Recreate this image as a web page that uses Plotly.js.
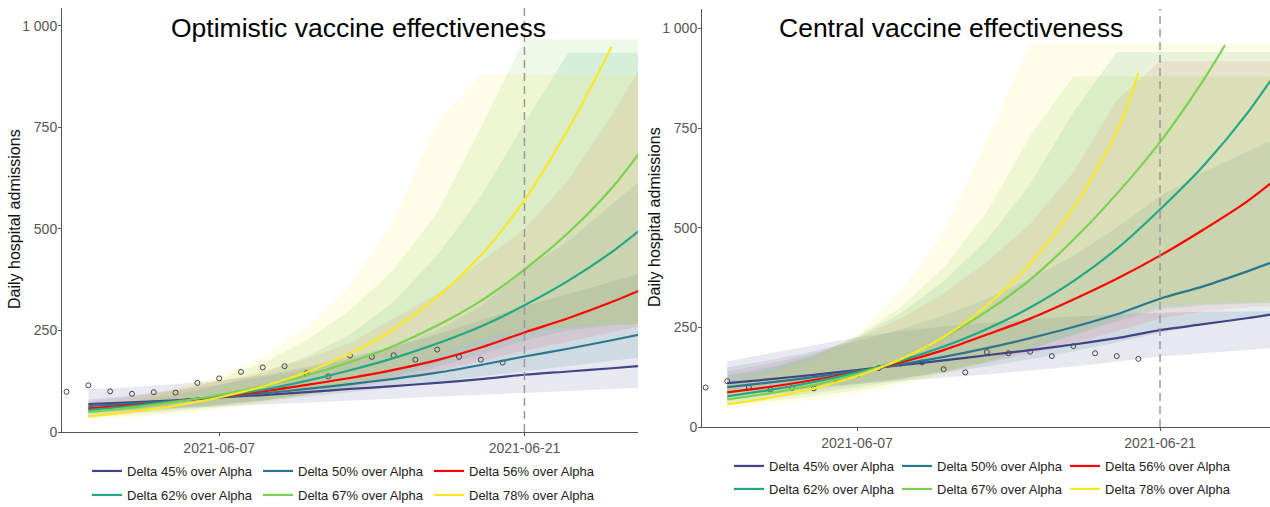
<!DOCTYPE html>
<html>
<head>
<meta charset="utf-8">
<script src="https://cdn.plot.ly/plotly-3.0.1.min.js"></script>
<style>
html,body{margin:0;padding:0;background:#fff;}
#chart{width:1270px;height:507px;}
</style>
</head>
<body>
<div id="chart"></div>
<script>
// ---------- DATA ----------
const modelDates = ['2021-06-01','2021-06-03','2021-06-05','2021-06-07','2021-06-09','2021-06-11','2021-06-13',
                    '2021-06-15','2021-06-17','2021-06-19','2021-06-21','2021-06-23','2021-06-25','2021-06-27'];
const obsDates = ['2021-05-31','2021-06-01','2021-06-02','2021-06-03','2021-06-04','2021-06-05','2021-06-06',
                  '2021-06-07','2021-06-08','2021-06-09','2021-06-10','2021-06-11','2021-06-12','2021-06-13',
                  '2021-06-14','2021-06-15','2021-06-16','2021-06-17','2021-06-18','2021-06-19','2021-06-20'];
const admissions = [99, 115, 100, 94, 98, 97, 121, 132, 148, 159, 162, 145, 137, 188, 185, 189, 178, 203, 185, 178, 171];

const seriesNames = ['Delta 45% over Alpha','Delta 50% over Alpha','Delta 56% over Alpha',
                     'Delta 62% over Alpha','Delta 67% over Alpha','Delta 78% over Alpha'];

// Optimistic vaccine effectiveness (left)
const opt45   = [69, 73, 78, 85, 91, 98, 106, 113, 121, 130, 141, 149, 157, 166];
const opt45Lo = [50, 54, 58, 63, 68, 73, 78, 83, 88, 92, 96, 101, 106, 111];
const opt45Hi = [105, 110, 118, 126, 140, 160, 185, 210, 240, 275, 310, 340, 370, 400];
const opt50   = [64, 70, 77, 86, 95, 106, 118, 131, 146, 165, 186, 205, 226, 248];
const opt50Lo = [47, 53, 60, 68, 77, 87, 98, 110, 123, 137, 150, 162, 175, 188];
const opt50Hi = [80, 90, 102, 117, 135, 155, 180, 210, 250, 310, 399, 470, 560, 650];
const opt56   = [58, 66, 76, 87, 100, 116, 133, 153, 177, 208, 245, 280, 320, 365];
const opt56Lo = [44, 50, 58, 67, 78, 92, 108, 127, 150, 175, 200, 222, 245, 268];
const opt56Hi = [75, 88, 105, 125, 150, 180, 220, 280, 340, 420, 500, 620, 780, 960];
const opt62   = [54, 64, 76, 88, 104, 126, 152, 182, 218, 260, 312, 372, 443, 528];
const opt62Lo = [40, 46, 54, 64, 77, 93, 112, 135, 160, 190, 225, 250, 262, 268];
const opt62Hi = [62, 75, 92, 115, 145, 185, 240, 320, 435, 580, 760, 934, 934, 934];
const opt67   = [49, 60, 74, 91, 113, 139, 172, 212, 262, 323, 400, 490, 600, 740];
const opt67Lo = [36, 42, 50, 60, 74, 92, 114, 140, 170, 205, 240, 258, 265, 268];
const opt67Hi = [65, 80, 100, 130, 170, 225, 300, 400, 540, 750, 967, 967, 967, 967];
const opt78Dates = ['2021-06-01','2021-06-03','2021-06-05','2021-06-07','2021-06-09','2021-06-11','2021-06-13',
                    '2021-06-15','2021-06-17','2021-06-19','2021-06-21','2021-06-23','2021-06-25'];
const opt78   = [38, 50, 65, 85, 112, 147, 193, 253, 332, 435, 571, 745, 948];
const opt78Lo = [30, 36, 44, 55, 70, 90, 116, 150, 190, 230, 255, 262, 266, 268];
const opt78Hi = [62, 80, 105, 140, 185, 255, 360, 520, 760, 880, 880, 880, 880, 880];

// Central vaccine effectiveness (right)
const cen45   = [110, 120, 131, 143, 155, 167, 180, 193, 207, 223, 243, 258, 273, 290];
const cen45Lo = [85, 92, 100, 108, 116, 124, 132, 142, 152, 164, 177, 185, 193, 201];
const cen45Hi = [165, 185, 205, 225, 240, 252, 262, 270, 277, 283, 287, 289, 290, 291];
const cen50   = [100, 112, 125, 140, 157, 176, 198, 223, 251, 283, 322, 353, 390, 430];
const cen50Lo = [78, 88, 98, 110, 122, 136, 152, 170, 190, 212, 236, 258, 272, 285];
const cen50Hi = [150, 168, 190, 215, 245, 280, 322, 372, 430, 500, 580, 640, 690, 740];
const cen56   = [87, 101, 118, 138, 162, 193, 232, 272, 320, 372, 430, 495, 565, 650];
const cen56Lo = [70, 80, 92, 106, 122, 140, 160, 184, 210, 240, 272, 290, 300, 305];
const cen56Hi = [140, 160, 185, 222, 272, 335, 415, 510, 640, 820, 918, 918, 918, 918];
const cen62   = [77, 93, 113, 137, 166, 202, 246, 300, 366, 447, 546, 655, 785, 940];
const cen62Lo = [62, 72, 85, 100, 118, 140, 165, 195, 230, 265, 295, 305, 310, 312];
const cen62Hi = [130, 150, 180, 225, 285, 365, 470, 610, 790, 941, 941, 941, 941, 941];
const cen67Dates = ['2021-06-01','2021-06-03','2021-06-05','2021-06-07','2021-06-09','2021-06-11','2021-06-13',
                    '2021-06-15','2021-06-17','2021-06-19','2021-06-21','2021-06-23','2021-06-24'];
const cen67   = [69, 85, 105, 133, 169, 225, 290, 370, 470, 585, 715, 870, 958];
const cen67Lo = [56, 65, 77, 92, 112, 135, 163, 195, 232, 270, 300, 308, 312, 314];
const cen67Hi = [125, 145, 178, 228, 300, 400, 540, 730, 880, 880, 880, 880, 880, 880];
const cen78Dates = ['2021-06-01','2021-06-03','2021-06-05','2021-06-07','2021-06-09','2021-06-11','2021-06-13',
                    '2021-06-15','2021-06-17','2021-06-19','2021-06-20'];
const cen78   = [57, 74, 97, 128, 170, 226, 305, 410, 550, 740, 888];
const cen78Lo = [47, 56, 68, 84, 105, 132, 165, 205, 250, 290, 310, 312, 314, 316];
const cen78Hi = [110, 135, 170, 230, 340, 485, 720, 962, 962, 962, 962, 962, 962, 962];

const yTickVals = [0, 250, 500, 750, 1000];
const yTickText = ['0', '250', '500', '750', '1 000'];
const xTickVals = ['2021-06-07', '2021-06-21'];
const xTickText = ['2021-06-07', '2021-06-21'];
const cutoffDate = '2021-06-21';

// ---------- STYLE ----------
const lineColors = ['#414487', '#2A788E', '#FF0000', '#22A884', '#7AD151', '#FDE725'];
const fillColors = ['rgba(65,68,135,0.12)', 'rgba(42,120,142,0.12)', 'rgba(255,0,0,0.08)',
                    'rgba(34,168,132,0.12)', 'rgba(122,209,81,0.13)', 'rgba(253,231,37,0.11)'];
const FONT = 'Liberation Sans, Arial, Helvetica, sans-serif';

const left = {
  xa: 'x', ya: 'y',
  lines: [opt45, opt50, opt56, opt62, opt67, opt78],
  lineDates: [modelDates, modelDates, modelDates, modelDates, modelDates, opt78Dates],
  lo: [opt45Lo, opt50Lo, opt56Lo, opt62Lo, opt67Lo, opt78Lo],
  hi: [opt45Hi, opt50Hi, opt56Hi, opt62Hi, opt67Hi, opt78Hi],
  legends: ['legend', 'legend2']
};
const right = {
  xa: 'x2', ya: 'y2',
  lines: [cen45, cen50, cen56, cen62, cen67, cen78],
  lineDates: [modelDates, modelDates, modelDates, modelDates, cen67Dates, cen78Dates],
  lo: [cen45Lo, cen50Lo, cen56Lo, cen62Lo, cen67Lo, cen78Lo],
  hi: [cen45Hi, cen50Hi, cen56Hi, cen62Hi, cen67Hi, cen78Hi],
  legends: ['legend3', 'legend4']
};

const traces = [];
function addPanel(p) {
  // ribbons first
  for (let i = 0; i < 6; i++) {
    traces.push({x: modelDates, y: p.lo[i], xaxis: p.xa, yaxis: p.ya, type: 'scatter', mode: 'lines',
      line: {width: 0, color: fillColors[i]}, showlegend: false, hoverinfo: 'skip', legend: p.legends[1]});
    traces.push({x: modelDates, y: p.hi[i], xaxis: p.xa, yaxis: p.ya, type: 'scatter', mode: 'lines',
      fill: 'tonexty', fillcolor: fillColors[i],
      line: {width: 0, color: fillColors[i]}, showlegend: false, hoverinfo: 'skip', legend: p.legends[1]});
  }
  // observed points
  traces.push({x: obsDates, y: admissions, xaxis: p.xa, yaxis: p.ya, type: 'scatter', mode: 'markers',
    marker: {symbol: 'circle-open', size: 5, color: '#444', line: {width: 1}}, showlegend: false});
  // central lines
  for (let i = 0; i < 6; i++) {
    traces.push({x: p.lineDates[i], y: p.lines[i], xaxis: p.xa, yaxis: p.ya, type: 'scatter', mode: 'lines',
      name: seriesNames[i], line: {color: lineColors[i], width: 2.2, shape: 'spline', smoothing: 0.8},
      legend: i < 3 ? p.legends[0] : p.legends[1], showlegend: true});
  }
}
addPanel(left);
addPanel(right);

const W = 1270, H = 507;
function axisY(domTop, domBot, top) {
  return {domain: [1 - domBot / H, 1 - domTop / H], range: [0, top], tickvals: yTickVals, ticktext: yTickText,
    showgrid: false, zeroline: false, showline: true, linecolor: '#555', linewidth: 1,
    ticks: 'outside', ticklen: 3, tickcolor: '#555', ticklabelstandoff: -2,
    tickfont: {family: FONT, size: 14, color: '#555'}, fixedrange: true};
}
function axisX(l, r, range, anchor) {
  return {domain: [l / W, r / W], range: range, type: 'date', anchor: anchor,
    tickvals: xTickVals, ticktext: xTickText, showgrid: false, zeroline: false,
    showline: true, linecolor: '#555', linewidth: 1, ticks: 'outside', ticklen: 3, tickcolor: '#555',
    tickfont: {family: FONT, size: 14, color: '#555'}, fixedrange: true};
}
function legendAt(xPx, yPx, ew) {
  return {orientation: 'h', x: xPx / W, xanchor: 'left', y: 1 - yPx / H, yanchor: 'middle',
    traceorder: 'normal',
    font: {family: FONT, size: 13, color: '#222'}, entrywidth: ew, entrywidthmode: 'pixels',
    bgcolor: 'rgba(0,0,0,0)', borderwidth: 0, itemclick: false, itemdoubleclick: false};
}

const layout = {
  width: W, height: H,
  margin: {l: 0, r: 0, t: 0, b: 0, pad: 0, autoexpand: false},
  paper_bgcolor: '#fff', plot_bgcolor: '#fff',
  xaxis: axisX(62, 638, ['2021-05-30 19:00', '2021-06-26 05:00'], 'y'),
  yaxis: Object.assign(axisY(8, 432, 1044), {anchor: 'x'}),
  xaxis2: axisX(702, 1270, ['2021-05-30 20:00', '2021-06-26 02:00'], 'y2'),
  yaxis2: Object.assign(axisY(9, 427, 1049), {anchor: 'x2'}),
  legend: legendAt(87, 471, 126),
  legend2: legendAt(87, 495, 126),
  legend3: legendAt(729, 466, 123),
  legend4: legendAt(729, 489, 123),
  shapes: [
    {type: 'line', xref: 'x', yref: 'y domain', x0: cutoffDate, x1: cutoffDate, y0: 0, y1: 1,
     line: {color: '#999', width: 1.5, dash: '8px,5px'}},
    {type: 'line', xref: 'x2', yref: 'y2 domain', x0: cutoffDate, x1: cutoffDate, y0: 0, y1: 1,
     line: {color: '#999', width: 1.5, dash: '8px,5px'}}
  ],
  annotations: [
    {text: 'Optimistic vaccine effectiveness', xref: 'paper', yref: 'paper', x: 358.5 / W, y: 1 - 28 / H,
     xanchor: 'center', yanchor: 'middle', showarrow: false, font: {family: FONT, size: 26.5, color: '#000'}},
    {text: 'Central vaccine effectiveness', xref: 'paper', yref: 'paper', x: 951 / W, y: 1 - 28 / H,
     xanchor: 'center', yanchor: 'middle', showarrow: false, font: {family: FONT, size: 26.5, color: '#000'}},
    {text: 'Daily hospital admissions', xref: 'paper', yref: 'paper', x: 14 / W, y: 1 - 219 / H,
     xanchor: 'center', yanchor: 'middle', textangle: -90, showarrow: false, font: {family: FONT, size: 16, color: '#111'}},
    {text: 'Daily hospital admissions', xref: 'paper', yref: 'paper', x: 655 / W, y: 1 - 217 / H,
     xanchor: 'center', yanchor: 'middle', textangle: -90, showarrow: false, font: {family: FONT, size: 16, color: '#111'}}
  ]
};

Plotly.newPlot('chart', traces, layout, {staticPlot: true, displayModeBar: false});
</script>
</body>
</html>
